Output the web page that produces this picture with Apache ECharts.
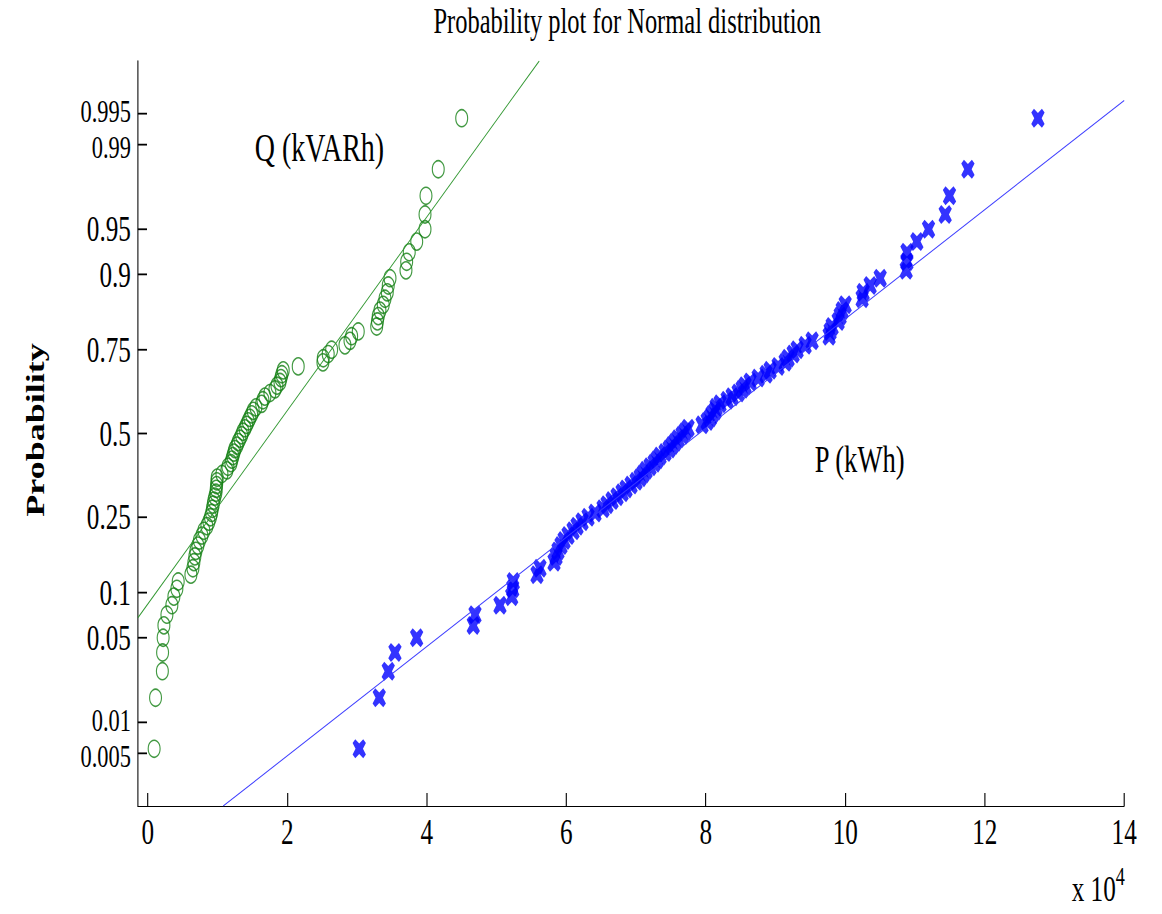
<!DOCTYPE html>
<html>
<head>
<meta charset="utf-8">
<title>Probability plot for Normal distribution</title>
<script src="https://cdn.jsdelivr.net/npm/echarts@6/dist/echarts.min.js"></script>
<style>
  html, body { margin: 0; padding: 0; background: #fff; overflow: hidden; }
  /* The figure is laid out on a wider canvas and squeezed horizontally. */
  #main { width: 1660px; height: 914px; transform: scaleX(0.7); transform-origin: 0 0; }
</style>
</head>
<body>
<div id="main"></div>
<script>
// Sorted observations (Q in kVARh, P in kWh)
const qValues = [
  900, 1100, 2080, 2110, 2190, 2300, 2730, 3440, 3730, 4160,
  4350, 6170, 6460, 6600, 6740, 6890, 7170, 7390, 7750, 8030,
  8460, 8750, 8970, 9140, 9250, 9370, 9470, 9610, 9760, 9800,
  9860, 9900, 9940, 10620, 11330, 11480, 11910, 12050, 12190, 12340,
  12480, 12770, 12950, 13200, 13440, 13630, 13920, 14160, 14390, 14630,
  14880, 15110, 15490, 16310, 16500, 16780, 17500, 18220, 18510, 18940,
  19080, 19220, 19410, 21560, 25100, 25150, 25860, 26350, 28260, 28980,
  29220, 30170, 32810, 32920, 33040, 33280, 33750, 34000, 34330, 34470,
  34720, 37010, 37110, 37480, 38550, 39740, 39740, 39880, 41640, 45000
];
const pValues = [
  30310, 33180, 34470, 35430, 38540, 46660, 46910, 50490, 52170, 52320,
  52400, 55800, 56230, 58240, 58530, 58810, 59240, 59680, 60250, 60970,
  61540, 62260, 63120, 64120, 65270, 65840, 66560, 67280, 68000, 68570,
  69290, 70000, 70580, 71010, 71440, 72010, 72590, 73020, 73450, 74160,
  74740, 75170, 75600, 76030, 76600, 77030, 77460, 79470, 80190, 80620,
  80910, 81340, 81480, 82050, 83060, 83780, 84640, 85210, 85640, 86360,
  87510, 88650, 89230, 90370, 91380, 91810, 92530, 93100, 94250, 95250,
  97690, 97830, 98120, 98980, 99270, 99560, 99990, 102420, 102570, 103570,
  105010, 108740, 108840, 108850, 110270, 111940, 114330, 114950, 117590, 127630
];

// Reference lines, as [value, probability] end points
const qRefLine = [[-1430, 0.0689], [56120, 0.99865]];
const pRefLine = [[10800, 0.00135], [140000, 0.99634]];

// Axis ticks
const probTicks = [0.005, 0.01, 0.05, 0.1, 0.25, 0.5, 0.75, 0.9, 0.95, 0.99, 0.995];
const probTickLabels = ['0.005', '0.01', '0.05', '0.1', '0.25', '0.5', '0.75', '0.9', '0.95', '0.99', '0.995'];
const xTicks = [0, 20000, 40000, 60000, 80000, 100000, 120000, 140000];

// Inverse of the standard normal CDF (Acklam's rational approximation)
function probit(p) {
  const a = [-3.969683028665376e+01, 2.209460984245205e+02, -2.759285104469687e+02, 1.383577518672690e+02, -3.066479806614716e+01, 2.506628277459239e+00];
  const b = [-5.447609879822406e+01, 1.615858368580409e+02, -1.556989798598866e+02, 6.680131188771972e+01, -1.328068155288572e+01];
  const c = [-7.784894002430293e-03, -3.223964580411365e-01, -2.400758277161838e+00, -2.549732539343734e+00, 4.374664141464968e+00, 2.938163982698783e+00];
  const d = [7.784695709041462e-03, 3.224671290700398e-01, 2.445134137142996e+00, 3.754408661907416e+00];
  const pl = 0.02425, ph = 1 - pl;
  if (p < pl) {
    const q = Math.sqrt(-2 * Math.log(p));
    return (((((c[0]*q+c[1])*q+c[2])*q+c[3])*q+c[4])*q+c[5]) / ((((d[0]*q+d[1])*q+d[2])*q+d[3])*q+1);
  }
  if (p > ph) {
    const q = Math.sqrt(-2 * Math.log(1 - p));
    return -(((((c[0]*q+c[1])*q+c[2])*q+c[3])*q+c[4])*q+c[5]) / ((((d[0]*q+d[1])*q+d[2])*q+d[3])*q+1);
  }
  const q = p - 0.5, r = q * q;
  return (((((a[0]*r+a[1])*r+a[2])*r+a[3])*r+a[4])*r+a[5])*q / (((((b[0]*r+b[1])*r+b[2])*r+b[3])*r+b[4])*r+1);
}

// Plotting positions (i - 0.5) / n, mapped to the normal quantile scale
function toPlotPoints(values) {
  const n = values.length;
  return values.map((v, i) => [v, probit((i + 0.5) / n)]);
}
const lineToPlot = pts => pts.map(([v, p]) => [v, probit(p)]);

const X_MIN = -1430, X_MAX = 140000;
const LABEL_SIZE = 36;      // regular tick label size
const CROWD_SIZE = 32;      // size for labels of ticks that sit very close together
const CROWD_STEP = 36.5;    // minimum spacing between such labels
const SERIF = '"Liberation Serif", "Times New Roman", serif';
const boldCross = 'path://M0,20 L20,0 L50,22 L80,0 L100,20 L78,50 L100,80 L80,100 L50,78 L20,100 L0,80 L22,50 Z';

const chart = echarts.init(document.getElementById('main'), null, { renderer: 'svg' });

chart.setOption({
  animation: false,
  backgroundColor: '#ffffff',
  grid: { left: 197, right: 54, top: 61, bottom: 108, containLabel: false },
  xAxis: {
    type: 'value',
    min: X_MIN,
    max: X_MAX,
    splitLine: { show: false },
    axisLine: { show: true, onZero: false, lineStyle: { color: '#000', width: 1.2 } },
    axisTick: { show: true, inside: true, length: 13, customValues: xTicks, lineStyle: { color: '#000', width: 1.6 } },
    axisLabel: {
      customValues: xTicks,
      margin: 8,
      color: '#000',
      fontFamily: SERIF,
      fontSize: LABEL_SIZE,
      formatter: v => String(Math.round(v / 10000))
    }
  },
  yAxis: {
    type: 'value',
    min: -3,
    max: 3,
    splitLine: { show: false },
    axisLine: { show: true, onZero: false, lineStyle: { color: '#000', width: 1.5 } },
    // probability ticks and labels are placed below from the axis scale
    axisTick: { show: false },
    axisLabel: { show: false }
  },
  series: [
    {
      name: 'P (kWh)',
      type: 'scatter',
      data: toPlotPoints(pValues),
      symbol: boldCross,
      symbolSize: [19, 19],
      itemStyle: { color: '#0000ff' }
    },
    {
      name: 'Q (kVARh)',
      type: 'scatter',
      data: toPlotPoints(qValues),
      symbol: 'circle',
      symbolSize: 17,
      itemStyle: { color: 'rgba(0,0,0,0)', borderColor: '#138013', borderWidth: 1.6 }
    },
    {
      name: 'P reference',
      type: 'line',
      data: lineToPlot(pRefLine),
      symbol: 'none',
      lineStyle: { color: '#3b3bff', width: 1.1 }
    },
    {
      name: 'Q reference',
      type: 'line',
      data: lineToPlot(qRefLine),
      symbol: 'none',
      lineStyle: { color: '#2f962f', width: 1.1 }
    }
  ]
});

// Probability ticks on the normal-quantile axis
const axisX = chart.convertToPixel({ xAxisIndex: 0 }, X_MIN);
const tickY = probTicks.map(p => chart.convertToPixel({ yAxisIndex: 0 }, probit(p)));
const probGraphics = tickY.map(y => ({
  type: 'line',
  shape: { x1: axisX, y1: y, x2: axisX + 13, y2: y },
  style: { stroke: '#000', lineWidth: 1.8 }
}));

// Labels of ticks that sit closer than a line of text are set a bit smaller
// and nudged apart around their common centre
const order = tickY.map((y, i) => i).sort((a, b) => tickY[a] - tickY[b]);
const groups = [];
order.forEach(i => {
  const last = groups[groups.length - 1];
  if (last && tickY[i] - tickY[last[last.length - 1]] < LABEL_SIZE) last.push(i);
  else groups.push([i]);
});
groups.forEach(g => {
  const ys = g.map(i => tickY[i]);
  const mid = (ys[0] + ys[ys.length - 1]) / 2;
  const crowded = g.length > 1;
  g.forEach((idx, k) => {
    const y = crowded ? mid + (k - (g.length - 1) / 2) * Math.max(CROWD_STEP, (ys[ys.length - 1] - ys[0]) / (g.length - 1)) : ys[0];
    probGraphics.push({
      type: 'text', x: axisX - 10, y: y,
      style: { text: probTickLabels[idx], fontFamily: SERIF, fontSize: crowded ? CROWD_SIZE : LABEL_SIZE,
               fill: '#000', align: 'right', verticalAlign: 'middle' }
    });
  });
});

chart.setOption({
  graphic: probGraphics.concat([
    {
      type: 'text', x: 896, y: 4,
      style: { text: 'Probability plot for Normal distribution', fontFamily: SERIF, fontSize: 35, fill: '#000',
               align: 'center', verticalAlign: 'top' }
    },
    {
      type: 'text', x: 50, y: 430, rotation: Math.PI / 2,
      style: { text: 'Probability', fontFamily: SERIF, fontWeight: 'bold', fontSize: 36, fill: '#000',
               align: 'center', verticalAlign: 'middle' }
    },
    {
      type: 'text', x: 364, y: 147,
      style: { text: 'Q (kVARh)', fontFamily: SERIF, fontSize: 40, fill: '#000', align: 'left', verticalAlign: 'middle' }
    },
    {
      type: 'text', x: 1164, y: 459,
      style: { text: 'P (kWh)', fontFamily: SERIF, fontSize: 38, fill: '#000', align: 'left', verticalAlign: 'middle' }
    },
    {
      type: 'text', x: 1531, y: 889,
      style: { text: 'x 10', fontFamily: SERIF, fontSize: 36, fill: '#000', align: 'left', verticalAlign: 'middle' }
    },
    {
      type: 'text', x: 1594, y: 876,
      style: { text: '4', fontFamily: SERIF, fontSize: 26, fill: '#000', align: 'left', verticalAlign: 'middle' }
    }
  ])
});
</script>
</body>
</html>
